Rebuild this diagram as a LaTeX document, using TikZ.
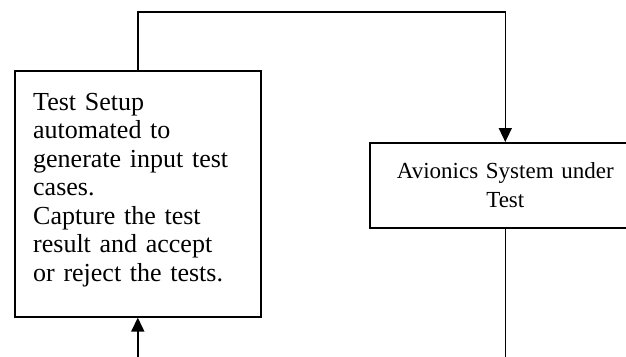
\documentclass[tikz,border=0pt]{standalone}
\usepackage{fontspec}
\setmainfont{Liberation Serif}
\usetikzlibrary{arrows.meta}
\begin{document}
\begin{tikzpicture}[x=1pt,y=-1pt,
  box/.style={draw,line width=1.6pt,inner sep=0pt,anchor=north west},
  conn/.style={line width=1.6pt},
  tip/.style={-{Triangle[width=13pt,length=14pt]}}]
\clip (0,0) rectangle (626,356);
\useasboundingbox (0,0) rectangle (626,356);
\node[box,minimum width=246pt,minimum height=246pt] (setup) at (14,70) {};
\node[anchor=west,text width=220pt,align=left,font=\fontsize{26}{28.5}\selectfont,inner sep=0pt] (setuptext) at (33,190)
  {Test Setup\\automated to\\generate input test\\cases.\\Capture the test\\result and accept\\or reject the tests.};
\node[box,minimum width=271pt,minimum height=85pt,text width=260pt,align=center,font=\fontsize{23}{29}\selectfont] (sys) at (369,142)
  {Avionics System under\\Test};
\coordinate (top) at (0,12);
\coordinate (bot) at (0,358);
\draw[conn,tip] (setup.north) -- (setup.north |- top) -| (sys.north);
\draw[conn] (sys.south) -- (sys.south |- bot);
\draw[conn,tip] (setup.south |- bot) -- (setup.south);
\end{tikzpicture}
\end{document}
